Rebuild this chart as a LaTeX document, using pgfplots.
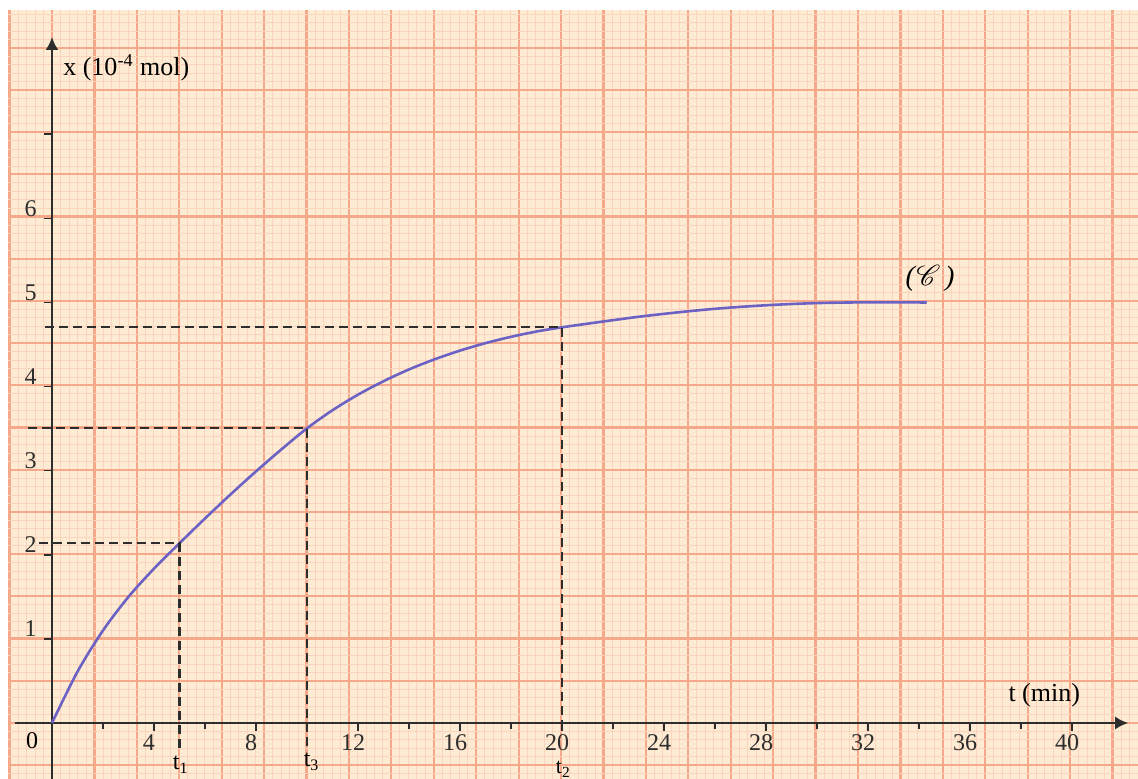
\documentclass[border=0pt]{standalone}
\usepackage{fontspec}
\setmainfont{Liberation Serif}
\usepackage{mathrsfs}
\usepackage{pgfplots}
\pgfplotsset{compat=1.18}
\usetikzlibrary{arrows.meta}

\definecolor{paper}{RGB}{254,235,211}
\definecolor{gridmaj}{RGB}{246,168,138}
\definecolor{gridmin}{RGB}{250,212,188}
\definecolor{curvecol}{RGB}{108,98,196}
\definecolor{ink}{RGB}{45,45,45}

\begin{document}
\begin{tikzpicture}
\useasboundingbox (0,0) rectangle (569pt,389.5pt);
\fill[white] (0,0) rectangle (569pt,389.5pt);

% graph paper, in pixel units of the scan
\begin{axis}[
  at={(4pt,0pt)}, anchor=south west,
  scale only axis, width=565pt, height=384.5pt,
  xmin=8, xmax=1138, ymin=0, ymax=769,
  axis line style={draw=none}, tick style={draw=none},
  xticklabels={}, yticklabels={},
  axis background/.style={fill=paper},
  xtick={9.58,52,...,1138}, minor xtick={1.096,9.58,...,1138},
  ytick={13.8,56,...,769}, minor ytick={5.36,13.8,...,769},
  grid=both,
  major grid style={gridmaj, line width=1.1pt},
  minor grid style={gridmin, line width=0.4pt},
]
\end{axis}

% the chart
\begin{axis}[
  at={(7.5pt,0pt)}, anchor=south west,
  scale only axis, width=556.6pt, height=371pt,
  xmin=-1.45, xmax=42.2, ymin=-0.666, ymax=8.157,
  axis lines=middle,
  axis line style={ink, line width=1.1pt, -{Latex[length=6.5pt,width=6.5pt]}},
  clip=false,
  xtick={4,8,...,40}, minor xtick={2,6,...,38},
  ytick={1,...,7}, yticklabels={1,2,3,4,5,6,{}},
  tick align=outside,
  major tick length=4pt, minor tick length=3pt,
  tick style={ink, line width=0.8pt},
  /pgf/number format/assume math mode=true,
  ticklabel style={font=\fontsize{12}{12}\selectfont, text=ink, inner sep=1.5pt},
  xticklabel style={xshift=-2.5pt},
  yticklabel style={yshift=5pt, xshift=-2pt},
  every node/.append style={text=ink},
]
\addplot[curvecol, line width=1.3pt, smooth] coordinates {
  (0,0) (1,0.61) (2,1.10) (3,1.50) (4,1.835) (5,2.137) (6,2.432)
  (7,2.717) (8,2.992) (9,3.254) (10,3.504) (11,3.719) (12,3.904)
  (13,4.064) (14,4.204) (15,4.324) (16,4.428) (17,4.517) (18,4.592)
  (19,4.655) (20,4.705) (21,4.748) (22,4.790) (23,4.830) (24,4.865)
  (25,4.897) (26,4.925) (27,4.948) (28,4.967) (29,4.982) (30,4.993)
  (31,4.999) (32,5.002) (33,5.002) (34.3,5.0)};

\addplot[ink, line width=1.1pt, dash pattern=on 4.5pt off 2.5pt] coordinates {
  (-0.5,2.137) (5,2.137) (5,-0.35)};
\addplot[ink, line width=1.1pt, dash pattern=on 4.5pt off 2.5pt] coordinates {
  (-0.94,3.504) (10,3.504) (10,-0.32)};
\addplot[ink, line width=1.1pt, dash pattern=on 4.5pt off 2.5pt] coordinates {
  (-0.27,4.705) (20,4.705) (20,-0.13)};

\node[anchor=west, inner sep=0pt, font=\fontsize{13}{15}\selectfont] at (axis cs:0.43,7.79) {x (10\textsuperscript{-4} mol)};
\node[anchor=west, inner sep=0pt, font=\fontsize{13}{15}\selectfont] at (axis cs:37.49,0.333) {t (min)};
\node[font=\fontsize{12}{14}\selectfont] at (axis cs:-0.78,-0.214) {0};
\node[font=\fontsize{14}{16}\selectfont] at (axis cs:34.43,5.29) {\textit{(}$\mathscr{C}$\,\textit{)}};
\node[font=\fontsize{12}{14}\selectfont] at (axis cs:5.05,-0.5) {t\textsubscript{1}};
\node[font=\fontsize{12}{14}\selectfont] at (axis cs:10.18,-0.46) {t\textsubscript{3}};
\node[font=\fontsize{11}{13}\selectfont, inner sep=0pt] at (axis cs:20.05,-0.55) {t\textsubscript{2}};
\end{axis}
\end{tikzpicture}
\end{document}
